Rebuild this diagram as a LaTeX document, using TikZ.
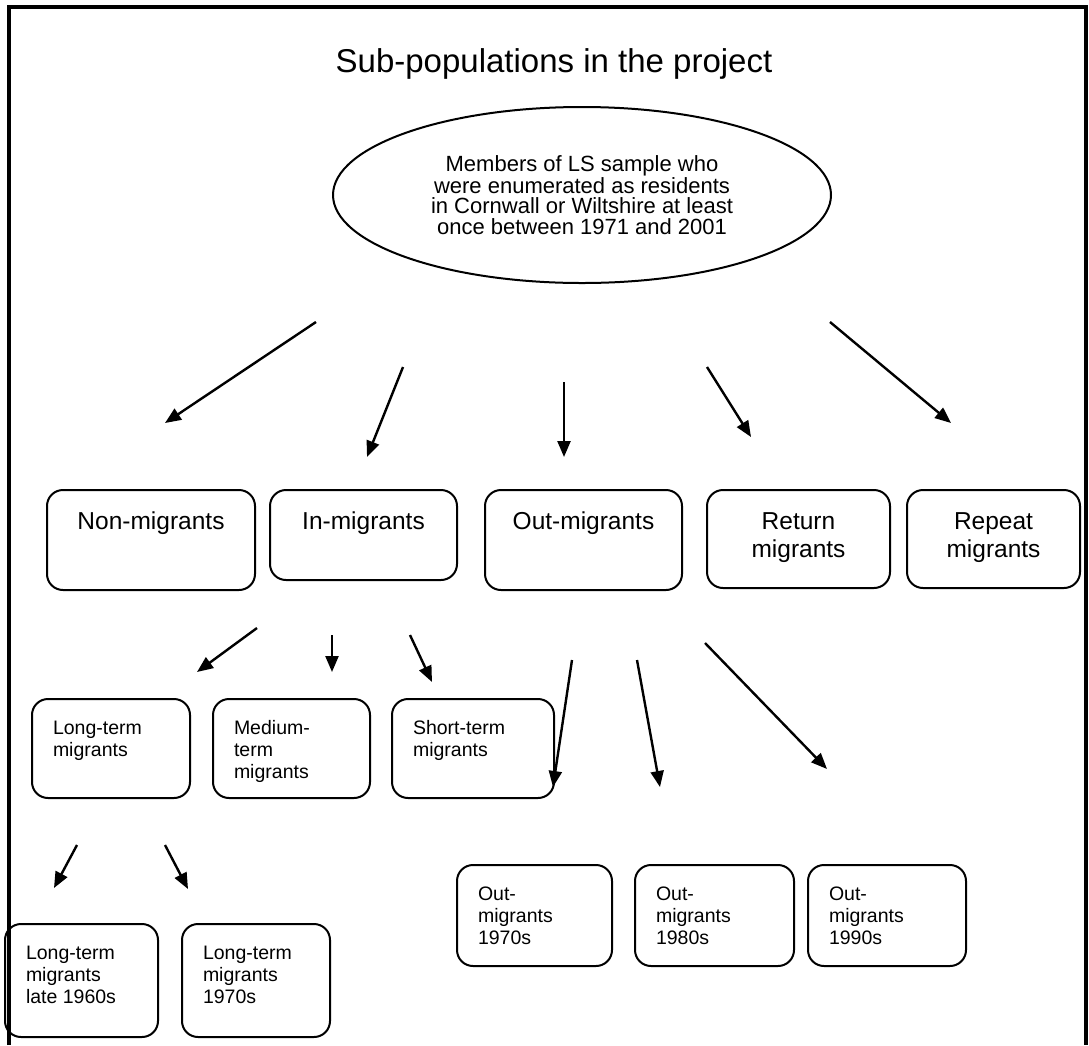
\documentclass[tikz,border=0pt]{standalone}
\usepackage{fontspec}
\setmainfont{Liberation Sans}
\usetikzlibrary{arrows.meta,shapes.geometric}
\newcommand{\bigtxt}{\fontsize{24.5}{28}\selectfont\centering\rule{0pt}{39pt}}
\newcommand{\smtxt}{\fontsize{19.5}{22}\selectfont\raggedright\leftskip=21pt\rule{0pt}{35pt}}
\newcommand{\mybox}[7]{%
  \node[mbox, anchor=north west] (#1) at (#2,#3) {\parbox[c][#5pt][t]{#4pt}{#6#7}};}
\tikzset{
  mbox/.style={draw, line width=2pt, rounded corners=16pt, inner sep=0pt, outer sep=0pt},
  arr/.style={line width=2.4pt, -{Triangle[length=16pt,width=13pt]}},
}
\begin{document}
\begin{tikzpicture}[x=1pt,y=-1pt]
\useasboundingbox (0,0) rectangle (1089,1045);
\fill[white] (0,0) rectangle (1089,1045);
\draw[line width=3.5pt] (9,1045) -- (9,7) -- (1086,7) -- (1086,1045);

\node[font=\fontsize{33}{36}\selectfont, anchor=base] (title) at (554,72) {Sub-populations in the project};

\node[draw, ellipse, line width=2pt, minimum width=498pt, minimum height=176pt, inner sep=0pt,
      align=center, font=\fontsize{22}{20.5}\selectfont] (root) at (582,195)
  {Members of LS sample who\\were enumerated as residents\\in Cornwall or Wiltshire at least\\once between 1971 and 2001};

% first row
\mybox{non}{47}{490}{208}{100}{\bigtxt}{Non-migrants}
\mybox{in}{270}{490}{187}{90}{\bigtxt}{In-migrants}
\mybox{out}{485}{490}{197}{100}{\bigtxt}{Out-migrants}
\mybox{ret}{707}{490}{183}{98}{\bigtxt}{Return\\migrants}
\mybox{rep}{907}{490}{173}{98}{\bigtxt}{Repeat\\migrants}

% second row
\mybox{lt}{32}{699}{158}{99}{\smtxt}{Long-term\\migrants}
\mybox{mt}{213}{699}{157}{99}{\smtxt}{Medium-\\term\\migrants}
\mybox{st}{392}{699}{162}{99}{\smtxt}{Short-term\\migrants}

% out-migrant decades
\mybox{o70}{457}{865}{155}{101}{\smtxt}{Out-\\migrants\\1970s}
\mybox{o80}{635}{865}{159}{101}{\smtxt}{Out-\\migrants\\1980s}
\mybox{o90}{808}{865}{158}{101}{\smtxt}{Out-\\migrants\\1990s}

% long-term sub-groups
\mybox{l60}{5}{924}{153}{113}{\smtxt}{Long-term\\migrants\\late 1960s}
\mybox{l70}{182}{924}{148}{113}{\smtxt}{Long-term\\migrants\\1970s}

% arrow end points
\coordinate (a1s) at (316,322); \coordinate (a1e) at (165,423);
\coordinate (a2s) at (403,367); \coordinate (a2e) at (367,457);
\coordinate (a3s) at (564,382); \coordinate (a3e) at (564,457);
\coordinate (a4s) at (707,367); \coordinate (a4e) at (751,437);
\coordinate (a5s) at (830,322); \coordinate (a5e) at (951,423);
\coordinate (b1s) at (257,628); \coordinate (b1e) at (197,672);
\coordinate (b2s) at (332,635); \coordinate (b2e) at (332,672);
\coordinate (b3s) at (410,635); \coordinate (b3e) at (432,682);
\coordinate (c1s) at (572,660); \coordinate (c1e) at (553,787);
\coordinate (c2s) at (637,660); \coordinate (c2e) at (660,787);
\coordinate (c3s) at (705,643); \coordinate (c3e) at (827,769);
\coordinate (d1s) at (77,845);  \coordinate (d1e) at (54,888);
\coordinate (d2s) at (165,845); \coordinate (d2e) at (188,889);

\foreach \p in {a1,a2,a3,a4,a5,b1,b2,b3,c1,c2,c3,d1,d2}
  \draw[arr] (\p s) -- (\p e);
\end{tikzpicture}
\end{document}
